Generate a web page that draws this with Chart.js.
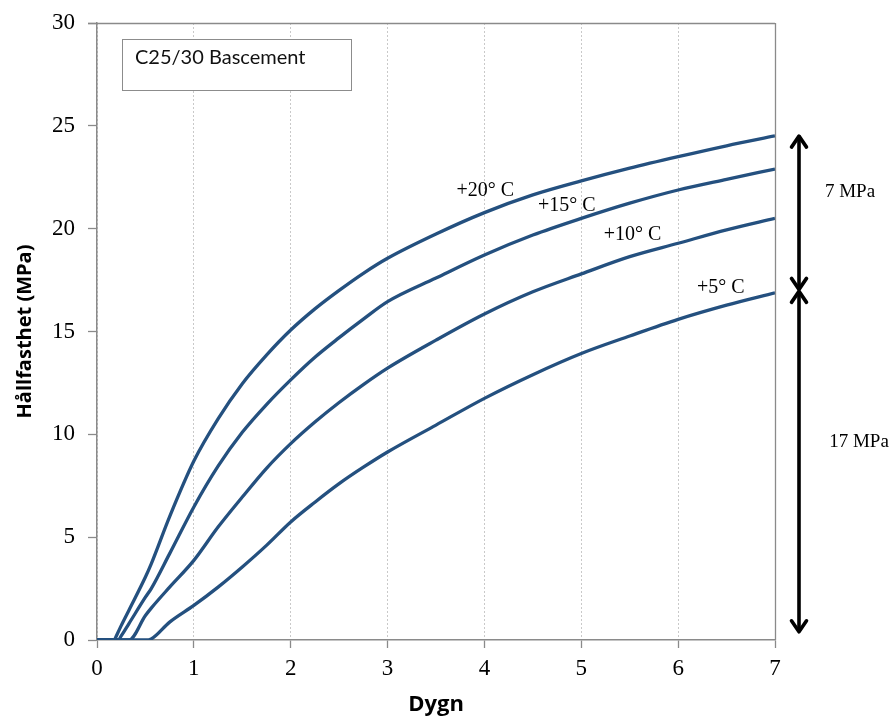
<!DOCTYPE html>
<html>
<head>
<meta charset="utf-8">
<script src="https://cdn.jsdelivr.net/npm/chart.js@4/dist/chart.umd.min.js"></script>
<style>
  html, body { margin: 0; padding: 0; background: #ffffff; }
  #wrap { width: 892px; height: 718px; }
</style>
</head>
<body>
<div id="wrap"><canvas id="c" width="892" height="718"></canvas></div>
<script>
// ---- Data ----
const days   = [0, 0.17, 0.22, 0.25, 0.33, 0.5, 0.56, 0.75, 1, 1.25, 1.5, 1.75, 2, 2.25, 2.5, 2.75, 3, 3.5, 4, 4.5, 5, 5.5, 6, 6.5, 7];
const temp20 = [0, 0, 0.4, 0.7, 1.45, 3.06, 3.7, 6.0, 8.7, 10.75, 12.46, 13.85, 15.07, 16.1, 17.0, 17.83, 18.56, 19.74, 20.78, 21.64, 22.32, 22.94, 23.5, 24.03, 24.51];
const temp15 = [0, 0, 0, 0.2, 0.8, 2.08, 2.5, 4.2, 6.47, 8.45, 10.1, 11.45, 12.65, 13.75, 14.7, 15.6, 16.45, 17.6, 18.72, 19.69, 20.5, 21.24, 21.88, 22.4, 22.9];
const temp10 = [0, 0, 0, 0, 0, 1.19, 1.55, 2.57, 3.87, 5.49, 6.95, 8.35, 9.55, 10.6, 11.55, 12.42, 13.22, 14.58, 15.85, 16.93, 17.8, 18.64, 19.29, 19.94, 20.5];
const temp5  = [0, 0, 0, 0, 0, 0, 0.05, 0.87, 1.68, 2.57, 3.55, 4.6, 5.74, 6.7, 7.6, 8.4, 9.14, 10.45, 11.75, 12.9, 13.93, 14.78, 15.59, 16.28, 16.88];

const seriesNames = ['+20° C', '+15° C', '+10° C', '+5° C'];
// curve labels placed in data coordinates (day, MPa)
const labelDay = [4.01, 4.85, 5.53, 6.44];
const labelMPa = [21.85, 21.1, 19.7, 17.14];

const chartTitle = 'C25/30 Bascement';
const xTitle = 'Dygn';
const yTitle = 'Hållfasthet (MPa)';

// strength span arrows at the right side (MPa)
const arrowLevels = [24.5, 17, 0.4];
const arrowTexts = ['7 MPa', '17 MPa'];
const arrowTextMPa = [21.8, 9.63];

const xMin = 0, xMax = 7, xStep = 1;
const yMin = 0, yMax = 30, yStep = 5;

// ---- Build datasets ----
const seriesValues = [temp20, temp15, temp10, temp5];
const LINE = '#24507f';
const datasets = seriesValues.map((vals, i) => ({
  label: seriesNames[i],
  data: days.map((d, k) => ({ x: d, y: vals[k] })),
  borderColor: LINE,
  borderWidth: 3.3,
  pointRadius: 0,
  fill: false,
  cubicInterpolationMode: 'monotone'
}));

const AXIS = '#8a8a8a';

const decorPlugin = {
  id: 'decor',
  afterDatasetsDraw(chart) {
    const { ctx, chartArea, scales } = chart;
    const xs = scales.x, ys = scales.y;
    ctx.save();
    // frame: top and right borders
    ctx.strokeStyle = AXIS;
    ctx.lineWidth = 1.3;
    ctx.beginPath();
    ctx.moveTo(chartArea.left - 9, Math.round(chartArea.top) + 0.5);
    ctx.lineTo(chartArea.right, Math.round(chartArea.top) + 0.5);
    ctx.moveTo(Math.round(chartArea.right) + 0.5, chartArea.top);
    ctx.lineTo(Math.round(chartArea.right) + 0.5, chartArea.bottom);
    ctx.stroke();

    // title box
    const bx = 122.5, by = 39.5, bw = 229, bh = 51;
    ctx.fillStyle = '#ffffff';
    ctx.fillRect(bx, by, bw, bh);
    ctx.strokeStyle = '#8c8c8c';
    ctx.lineWidth = 1;
    ctx.strokeRect(bx, by, bw, bh);
    ctx.fillStyle = '#111111';
    ctx.font = '20px Lato';
    ctx.textAlign = 'left';
    ctx.textBaseline = 'middle';
    ctx.fillText(chartTitle, 135, 58);

    // curve labels
    ctx.font = '20px "Liberation Serif"';
    ctx.textAlign = 'center';
    ctx.textBaseline = 'middle';
    ctx.fillStyle = '#000000';
    seriesNames.forEach((n, i) => {
      ctx.fillText(n, xs.getPixelForValue(labelDay[i]), ys.getPixelForValue(labelMPa[i]));
    });

    // arrows
    const ax = chartArea.right + 24;
    ctx.strokeStyle = '#000000';
    ctx.lineWidth = 3.6;
    ctx.lineCap = 'round';
    ctx.lineJoin = 'round';
    const head = (x, y, dir) => {
      ctx.beginPath();
      ctx.moveTo(x - 7.5, y + dir * 11);
      ctx.lineTo(x, y);
      ctx.lineTo(x + 7.5, y + dir * 11);
      ctx.stroke();
    };
    for (let i = 0; i < arrowLevels.length - 1; i++) {
      const yTop = ys.getPixelForValue(arrowLevels[i]) + (i === 0 ? 0 : 1);
      const yBot = ys.getPixelForValue(arrowLevels[i + 1]) - (i === 0 ? 1 : 0);
      ctx.beginPath();
      ctx.moveTo(ax, yTop + 1);
      ctx.lineTo(ax, yBot - 1);
      ctx.stroke();
      head(ax, yTop, 1);
      head(ax, yBot, -1);
    }
    ctx.font = '19px "Liberation Serif"';
    ctx.fillStyle = '#000000';
    ctx.textBaseline = 'middle';
    ctx.textAlign = 'center';
    ctx.fillText(arrowTexts[0], chartArea.right + 75, ys.getPixelForValue(arrowTextMPa[0]));
    ctx.fillText(arrowTexts[1], chartArea.right + 84, ys.getPixelForValue(arrowTextMPa[1]));
    ctx.restore();
  }
};

new Chart(document.getElementById('c'), {
  type: 'line',
  data: { datasets },
  options: {
    responsive: false,
    animation: false,
    devicePixelRatio: 1,
    layout: { padding: { top: 23, right: 117, left: 0, bottom: 0 } },
    plugins: { legend: { display: false }, tooltip: { enabled: false } },
    scales: {
      x: {
        type: 'linear',
        min: xMin, max: xMax,
        afterFit(s) { s.height = 78; },
        ticks: {
          stepSize: xStep,
          color: '#000000',
          font: { family: 'Liberation Serif', size: 23 },
          padding: 7,
          maxRotation: 0
        },
        grid: {
          color: '#c9c9c9',
          lineWidth: 1,
          tickColor: AXIS,
          tickLength: 8,
          tickWidth: 1.3,
          tickBorderDash: []
        },
        border: { color: AXIS, width: 1.5, dash: [2, 2] },
        title: {
          display: true,
          text: xTitle,
          color: '#000000',
          font: { family: 'Open Sans', size: 22, weight: 'bold' },
          padding: { top: 0, bottom: 0 }
        }
      },
      y: {
        type: 'linear',
        min: yMin, max: yMax,
        afterFit(s) { s.width = 97; },
        ticks: {
          stepSize: yStep,
          color: '#000000',
          font: { family: 'Liberation Serif', size: 23, lineHeight: 0.8 },
          padding: 13
        },
        grid: {
          drawOnChartArea: false,
          tickColor: AXIS,
          tickLength: 9,
          tickWidth: 1.3
        },
        border: { color: AXIS, width: 1.5 },
        title: {
          display: true,
          text: yTitle,
          color: '#000000',
          font: { family: 'Open Sans', size: 20, weight: 'bold' },
          padding: { top: 13, bottom: 0 }
        }
      }
    }
  },
  plugins: [decorPlugin]
});
</script>
</body>
</html>
